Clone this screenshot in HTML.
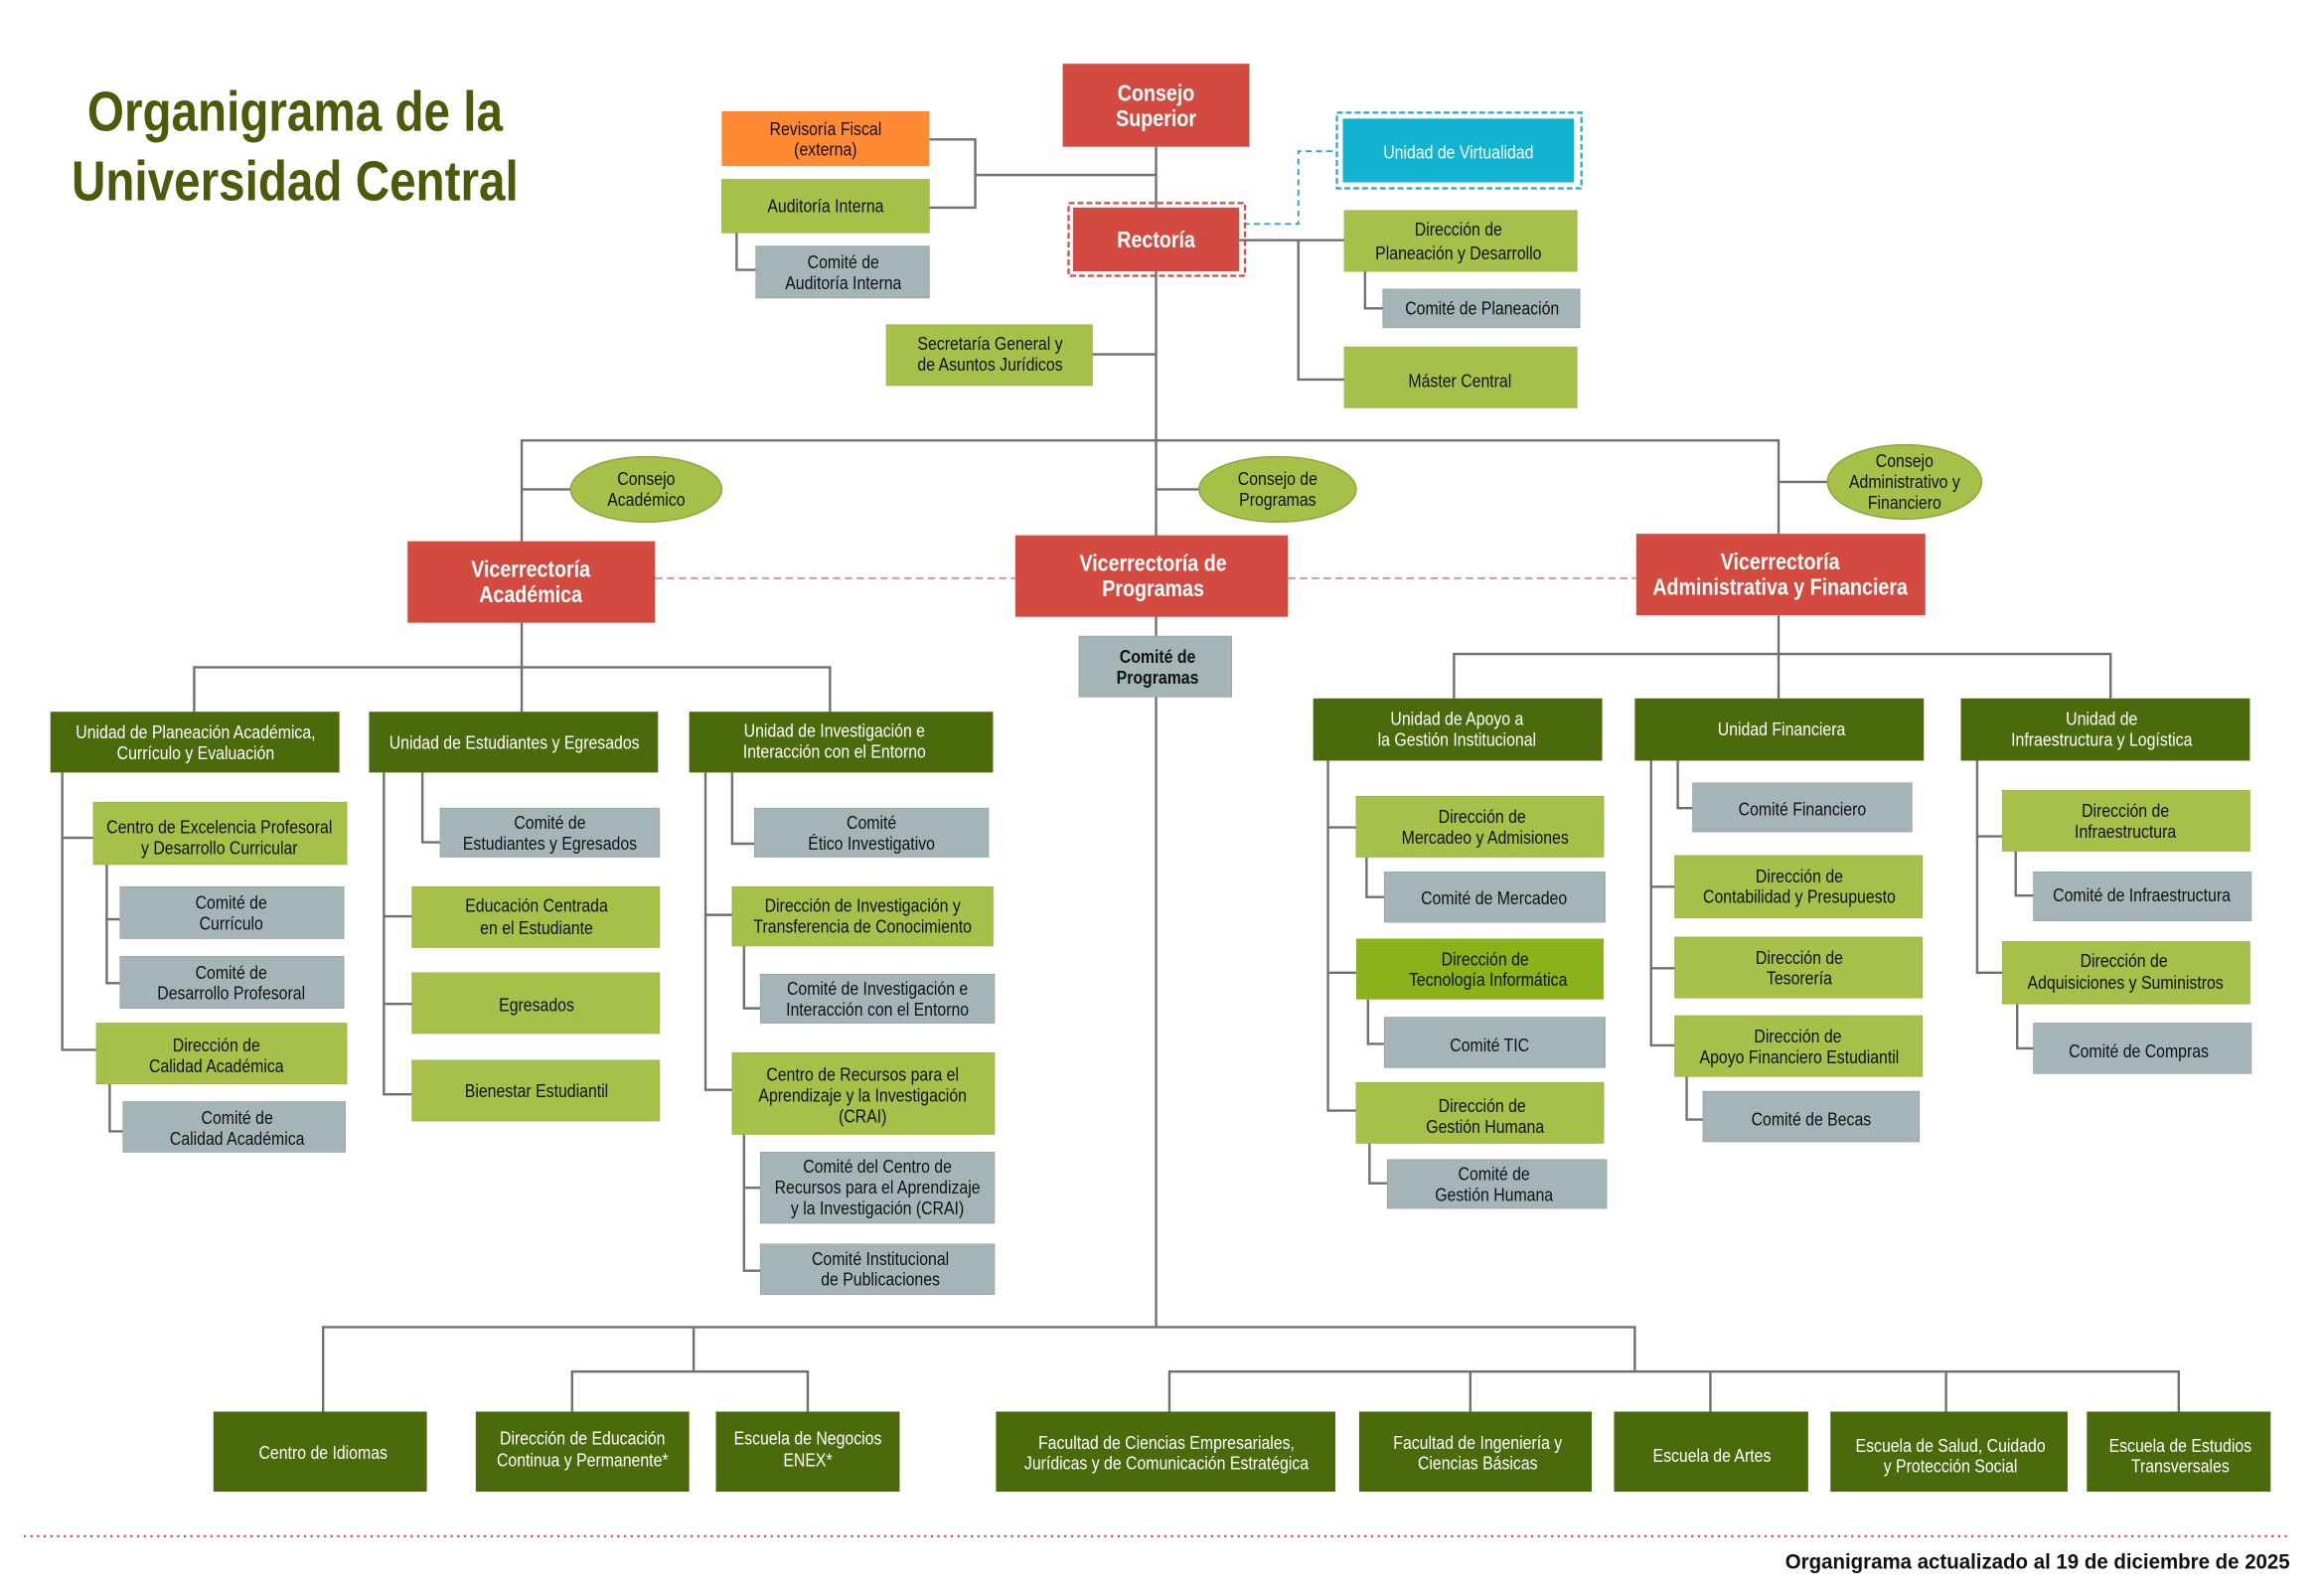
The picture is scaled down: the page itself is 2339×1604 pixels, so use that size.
<!DOCTYPE html>
<html><head><meta charset="utf-8"><style>
html,body{margin:0;padding:0;background:#fff;}
svg{display:block;}
text{font-family:"Liberation Sans Narrow","Liberation Sans",sans-serif;font-size:12.5px;text-anchor:middle;fill:#111;transform-box:fill-box;transform-origin:center;transform:scaleX(.85);}
.w{fill:#fff;}
.b{font-weight:bold;font-size:15.5px;fill:#fff;}
.l{stroke:#707070;stroke-width:1.6;fill:none;}
.r{fill:#D34A40;}.dg{fill:#4A6A0C;}.lg{fill:#A6C14A;stroke:#9bb040;stroke-width:.5}.gr{fill:#A5B5B7;stroke:#94a2a4;stroke-width:.5}
</style></head><body>
<svg width="2339" height="1604" viewBox="0 0 1568 1075" preserveAspectRatio="none" xmlns="http://www.w3.org/2000/svg">
<rect width="1568" height="1075" fill="#fff"/>
<text x="199" y="88" style="font-size:38px;font-weight:bold;fill:#4C5A0A;transform:scaleX(.84)">Organigrama de la</text>
<text x="199" y="135" style="font-size:38px;font-weight:bold;fill:#4C5A0A;transform:scaleX(.84)">Universidad Central</text>

<g class="l">
<path d="M780 99V895"/>
<path d="M627 94H658V140H627M658 118H780"/>
<path d="M497 157V182H510"/>
<path d="M836 162H907M876 162V256H907"/>
<path d="M921 183V208H933"/>
<path d="M737 239H780"/>
<path d="M352 365V297H1200V360"/>
<path d="M352 330H385M780 330H809M1200 325H1233"/>
<path d="M352 420V450M131 480V450H560V480M352 450V480"/>
<path d="M42 521V708H65M42 565H63"/>
<path d="M72 583V663H81M72 620H81"/>
<path d="M74 731V763H83"/>
<path d="M259 521V738H278M259 618H278M259 677H278"/>
<path d="M285 521V568H297"/>
<path d="M476 521V735H494M476 617H494"/>
<path d="M494 521V569H509"/>
<path d="M502 638V680H513"/>
<path d="M502 765V857H513M502 801H513"/>
<path d="M1200 415V441M981 471V441H1424V471M1200 441V471"/>
<path d="M896 513V749H915M896 558H915M896 656H915"/>
<path d="M922 578V605H934M923 674V704H934M924 770V798H936"/>
<path d="M1114 513V705H1130M1114 598H1130M1114 653H1130"/>
<path d="M1132 513V545H1142M1138 726V755H1149"/>
<path d="M1334 513V656H1351M1334 564H1351"/>
<path d="M1360 574V604H1372M1361 677V707H1372"/>
<path d="M218 952V895H1103V925M468 895V925M386 952V925H545V952"/>
<path d="M789 952V925H1470V952M992 925V952M1154 925V952M1313 925V952"/>
</g>
<path d="M839 151H876V102H902" stroke="#2AA8BE" stroke-width="1.3" stroke-dasharray="4,3" fill="none"/>
<path d="M442 390H685M869 390H1104" stroke="#D9776E" stroke-width="1" stroke-dasharray="5,3" fill="none"/>

<rect class="r" x="717" y="43" width="126" height="56"/>
<text class="b" x="780" y="68">Consejo</text><text class="b" x="780" y="85">Superior</text>
<rect x="487" y="75" width="140" height="37" fill="#FF8A33"/>
<text x="557" y="91">Revisoría Fiscal</text><text x="557" y="105">(externa)</text>
<rect class="lg" x="487" y="121" width="140" height="36"/><text x="557" y="143">Auditoría Interna</text>
<rect class="gr" x="510" y="166" width="117" height="35"/><text x="569" y="181">Comité de</text><text x="569" y="195">Auditoría Interna</text>
<rect x="721" y="137" width="119" height="49" fill="none" stroke="#D34A40" stroke-width="1.5" stroke-dasharray="4,2"/>
<rect class="r" x="724" y="140" width="112" height="43"/><text class="b" x="780" y="167">Rectoría</text>
<rect x="902" y="76" width="165" height="51" fill="none" stroke="#2AA8BE" stroke-width="1.5" stroke-dasharray="4,2"/>
<rect x="906" y="80" width="156" height="43" fill="#12B4D2"/><text class="w" x="984" y="107">Unidad de Virtualidad</text>
<rect class="lg" x="907" y="142" width="157" height="41"/><text x="984" y="159">Dirección de</text><text x="984" y="175">Planeación y Desarrollo</text>
<rect class="gr" x="933" y="195" width="133" height="26"/><text x="1000" y="212">Comité de Planeación</text>
<rect class="lg" x="907" y="234" width="157" height="41"/><text x="985" y="261">Máster Central</text>
<rect class="lg" x="598" y="219" width="139" height="41"/><text x="668" y="236">Secretaría General y</text><text x="668" y="250">de Asuntos Jurídicos</text>

<ellipse cx="436" cy="330" rx="51" ry="22" fill="#A6C14A" stroke="#8ea53a"/>
<text x="436" y="327">Consejo</text><text x="436" y="341">Académico</text>
<ellipse cx="862" cy="330" rx="53" ry="22" fill="#A6C14A" stroke="#8ea53a"/>
<text x="862" y="327">Consejo de</text><text x="862" y="341">Programas</text>
<ellipse cx="1285" cy="325" rx="52" ry="25" fill="#A6C14A" stroke="#8ea53a"/>
<text x="1285" y="315">Consejo</text><text x="1285" y="329">Administrativo y</text><text x="1285" y="343">Financiero</text>

<rect class="r" x="275" y="365" width="167" height="55"/><text class="b" x="358" y="389">Vicerrectoría</text><text class="b" x="358" y="406">Académica</text>
<rect class="r" x="685" y="361" width="184" height="55"/><text class="b" x="778" y="385">Vicerrectoría de</text><text class="b" x="778" y="402">Programas</text>
<rect class="r" x="1104" y="360" width="195" height="55"/><text class="b" x="1201" y="384">Vicerrectoría</text><text class="b" x="1201" y="401">Administrativa y Financiera</text>
<rect class="gr" x="728" y="429" width="103" height="41"/><text x="781" y="447" style="font-weight:bold">Comité de</text><text x="781" y="461" style="font-weight:bold">Programas</text>

<rect class="dg" x="34" y="480" width="195" height="41"/><text class="w" x="132" y="498">Unidad de Planeación Académica,</text><text class="w" x="132" y="512">Currículo y Evaluación</text>
<rect class="dg" x="249" y="480" width="195" height="41"/><text class="w" x="347" y="505">Unidad de Estudiantes y Egresados</text>
<rect class="dg" x="465" y="480" width="205" height="41"/><text class="w" x="563" y="497">Unidad de Investigación e</text><text class="w" x="563" y="511">Interacción con el Entorno</text>
<rect class="lg" x="63" y="541" width="171" height="42"/><text x="148" y="562">Centro de Excelencia Profesoral</text><text x="148" y="576">y Desarrollo Curricular</text>
<rect class="gr" x="81" y="598" width="151" height="35"/><text x="156" y="613">Comité de</text><text x="156" y="627">Currículo</text>
<rect class="gr" x="81" y="645" width="151" height="35"/><text x="156" y="660">Comité de</text><text x="156" y="674">Desarrollo Profesoral</text>
<rect class="lg" x="65" y="690" width="169" height="41"/><text x="146" y="709">Dirección de</text><text x="146" y="723">Calidad Académica</text>
<rect class="gr" x="83" y="743" width="150" height="34"/><text x="160" y="758">Comité de</text><text x="160" y="772">Calidad Académica</text>
<rect class="gr" x="297" y="545" width="148" height="33"/><text x="371" y="559">Comité de</text><text x="371" y="573">Estudiantes y Egresados</text>
<rect class="lg" x="278" y="598" width="167" height="41"/><text x="362" y="615">Educación Centrada</text><text x="362" y="630">en el Estudiante</text>
<rect class="lg" x="278" y="656" width="167" height="41"/><text x="362" y="682">Egresados</text>
<rect class="lg" x="278" y="715" width="167" height="41"/><text x="362" y="740">Bienestar Estudiantil</text>
<rect class="gr" x="509" y="545" width="158" height="33"/><text x="588" y="559">Comité</text><text x="588" y="573">Ético Investigativo</text>
<rect class="lg" x="494" y="598" width="176" height="40"/><text x="582" y="615">Dirección de Investigación y</text><text x="582" y="629">Transferencia de Conocimiento</text>
<rect class="gr" x="513" y="657" width="158" height="33"/><text x="592" y="671">Comité de Investigación e</text><text x="592" y="685">Interacción con el Entorno</text>
<rect class="lg" x="494" y="710" width="177" height="55"/><text x="582" y="729">Centro de Recursos para el</text><text x="582" y="743">Aprendizaje y la Investigación</text><text x="582" y="757">(CRAI)</text>
<rect class="gr" x="513" y="777" width="158" height="48"/><text x="592" y="791">Comité del Centro de</text><text x="592" y="805">Recursos para el Aprendizaje</text><text x="592" y="819">y la Investigación (CRAI)</text>
<rect class="gr" x="513" y="839" width="158" height="34"/><text x="594" y="853">Comité Institucional</text><text x="594" y="867">de Publicaciones</text>

<rect class="dg" x="886" y="471" width="195" height="42"/><text class="w" x="983" y="489">Unidad de Apoyo a</text><text class="w" x="983" y="503">la Gestión Institucional</text>
<rect class="dg" x="1103" y="471" width="195" height="42"/><text class="w" x="1202" y="496">Unidad Financiera</text>
<rect class="dg" x="1323" y="471" width="195" height="42"/><text class="w" x="1418" y="489">Unidad de</text><text class="w" x="1418" y="503">Infraestructura y Logística</text>
<rect class="lg" x="915" y="537" width="167" height="41"/><text x="1000" y="555">Dirección de</text><text x="1002" y="569">Mercadeo y Admisiones</text>
<rect class="gr" x="934" y="588" width="149" height="34"/><text x="1008" y="610">Comité de Mercadeo</text>
<rect x="915" y="633" width="167" height="41" fill="#8BB21B"/><text x="1002" y="651">Dirección de</text><text x="1004" y="665">Tecnología Informática</text>
<rect class="gr" x="934" y="686" width="149" height="34"/><text x="1005" y="709">Comité TIC</text>
<rect class="lg" x="915" y="730" width="167" height="41"/><text x="1000" y="750">Dirección de</text><text x="1002" y="764">Gestión Humana</text>
<rect class="gr" x="936" y="782" width="148" height="33"/><text x="1008" y="796">Comité de</text><text x="1008" y="810">Gestión Humana</text>
<rect class="gr" x="1142" y="528" width="148" height="33"/><text x="1216" y="550">Comité Financiero</text>
<rect class="lg" x="1130" y="577" width="167" height="42"/><text x="1214" y="595">Dirección de</text><text x="1214" y="609">Contabilidad y Presupuesto</text>
<rect class="lg" x="1130" y="632" width="167" height="41"/><text x="1214" y="650">Dirección de</text><text x="1214" y="664">Tesorería</text>
<rect class="lg" x="1130" y="685" width="167" height="41"/><text x="1213" y="703">Dirección de</text><text x="1214" y="717">Apoyo Financiero Estudiantil</text>
<rect class="gr" x="1149" y="736" width="146" height="34"/><text x="1222" y="759">Comité de Becas</text>
<rect class="lg" x="1351" y="533" width="167" height="41"/><text x="1434" y="551">Dirección de</text><text x="1434" y="565">Infraestructura</text>
<rect class="gr" x="1372" y="588" width="147" height="33"/><text x="1445" y="608">Comité de Infraestructura</text>
<rect class="lg" x="1351" y="635" width="167" height="42"/><text x="1433" y="652">Dirección de</text><text x="1434" y="667">Adquisiciones y Suministros</text>
<rect class="gr" x="1372" y="690" width="147" height="34"/><text x="1443" y="713">Comité de Compras</text>

<rect class="dg" x="144" y="952" width="144" height="54"/><text class="w" x="218" y="984">Centro de Idiomas</text>
<rect class="dg" x="321" y="952" width="144" height="54"/><text class="w" x="393" y="974">Dirección de Educación</text><text class="w" x="393" y="989">Continua y Permanente*</text>
<rect class="dg" x="483" y="952" width="124" height="54"/><text class="w" x="545" y="974">Escuela de Negocios</text><text class="w" x="545" y="989">ENEX*</text>
<rect class="dg" x="672" y="952" width="229" height="54"/><text class="w" x="787" y="977">Facultad de Ciencias Empresariales,</text><text class="w" x="787" y="991">Jurídicas y de Comunicación Estratégica</text>
<rect class="dg" x="917" y="952" width="157" height="54"/><text class="w" x="997" y="977">Facultad de Ingeniería y</text><text class="w" x="997" y="991">Ciencias Básicas</text>
<rect class="dg" x="1089" y="952" width="131" height="54"/><text class="w" x="1155" y="986">Escuela de Artes</text>
<rect class="dg" x="1235" y="952" width="160" height="54"/><text class="w" x="1316" y="979">Escuela de Salud, Cuidado</text><text class="w" x="1316" y="993">y Protección Social</text>
<rect class="dg" x="1408" y="952" width="124" height="54"/><text class="w" x="1471" y="979">Escuela de Estudios</text><text class="w" x="1471" y="993">Transversales</text>

<path d="M16 1036H1545" stroke="#D34A40" stroke-width="1.5" stroke-dasharray="1.5,3" fill="none"/>
<text x="1545" y="1058" style="text-anchor:end;font-weight:bold;font-size:14px;transform-origin:right;transform:scaleX(.98)">Organigrama actualizado al 19 de diciembre de 2025</text>
</svg>
</body></html>
